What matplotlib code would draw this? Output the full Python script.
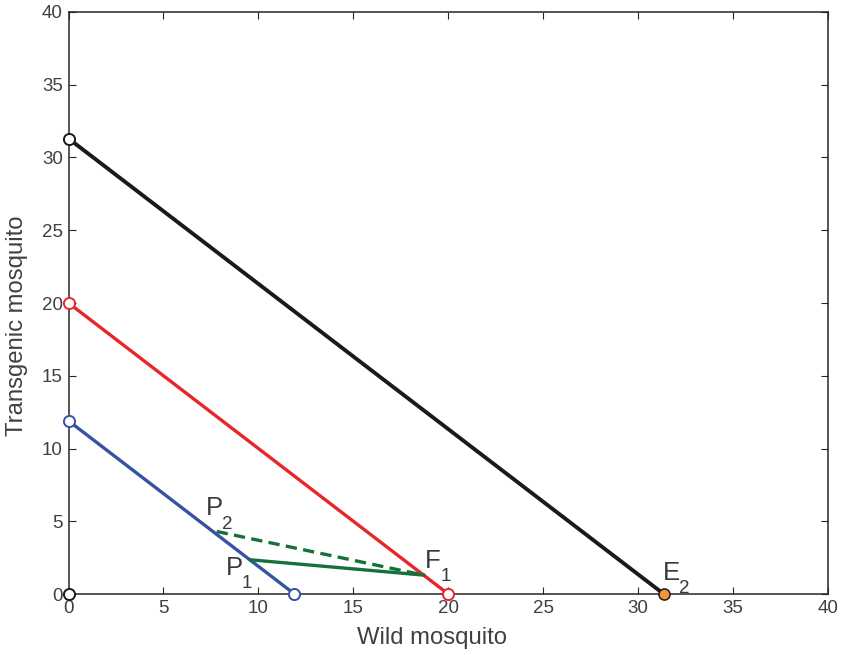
import matplotlib
matplotlib.use("Agg")
import matplotlib.pyplot as plt

# endpoints of each segment (wild, transgenic)
black_x = [0, 31.35]
black_y = [31.3, 0]
red_x = [0, 20]
red_y = [20, 0]
blue_x = [0, 11.9]
blue_y = [11.9, 0]
green_solid_x = [9.6, 18.7]
green_solid_y = [2.35, 1.3]
green_dash_x = [7.8, 18.7]
green_dash_y = [4.3, 1.3]

# labelled points
labels = ["P", "P", "F", "E"]
subs = ["2", "1", "1", "2"]
label_x = [7.25, 8.3, 18.75, 31.3]
label_y = [5.4, 1.3, 1.8, 0.95]

ticks = [0, 5, 10, 15, 20, 25, 30, 35, 40]

plt.rcParams['font.family'] = ['Liberation Sans', 'DejaVu Sans']

fig = plt.figure(figsize=(8.42, 6.55), dpi=100)
ax = fig.add_axes([0.0814, 0.0931, 0.9020, 0.8886])

ax.plot(black_x, black_y, color='#1a1a1a', lw=2.8, zorder=3)
ax.plot(red_x, red_y, color='#e8262a', lw=2.4, zorder=3)
ax.plot(blue_x, blue_y, color='#3652a3', lw=2.4, zorder=3)
ax.plot(green_solid_x, green_solid_y, color='#16703a', lw=2.4, zorder=3)
ax.plot(green_dash_x, green_dash_y, color='#16703a', lw=2.4, ls=(0, (3.4, 1.9)), zorder=3)

ms = 8
ax.plot([0], [black_y[0]], 'o', mfc='white', mec='#1a1a1a', mew=1.4, ms=ms, zorder=5, clip_on=False)
ax.plot([0], [0], 'o', mfc='white', mec='#1a1a1a', mew=1.4, ms=ms, zorder=5, clip_on=False)
ax.plot([0, red_x[1]], [red_y[0], 0], 'o', mfc='white', mec='#e8262a', mew=1.4, ms=ms, zorder=5, clip_on=False, ls='none')
ax.plot([0, blue_x[1]], [blue_y[0], 0], 'o', mfc='white', mec='#3652a3', mew=1.4, ms=ms, zorder=5, clip_on=False, ls='none')
ax.plot([black_x[1]], [0], 'o', mfc='#f0953a', mec='#1a1a1a', mew=1.1, ms=ms, zorder=5, clip_on=False)

for lab, sub, lx, ly in zip(labels, subs, label_x, label_y):
    ax.text(lx, ly, lab, fontsize=18.5, color='#3a3a3a', ha='left', va='baseline', zorder=6)
    ax.annotate(sub, xy=(lx, ly), xytext=(11.5, -9.5), textcoords='offset points',
                fontsize=13.5, color='#3a3a3a', ha='left', va='baseline', zorder=6)

ax.set_xlim(0, 40)
ax.set_ylim(0, 40)
ax.set_xticks(ticks)
ax.set_yticks(ticks)
ax.tick_params(direction='in', top=True, right=True, length=5, width=0.8, pad=4,
               labelsize=13.5, labelcolor='#404040', color='#262626')
for s in ax.spines.values():
    s.set_linewidth(1.1)
    s.set_color('#262626')

ax.set_xlabel('Wild mosquito', fontsize=17.2, color='#404040')
ax.set_ylabel('Transgenic mosquito', fontsize=17.2, color='#404040')
ax.xaxis.set_label_coords(0.4786, -0.056)
ax.yaxis.set_label_coords(-0.053, 0.4605)

fig.savefig('out.png', dpi=100)
